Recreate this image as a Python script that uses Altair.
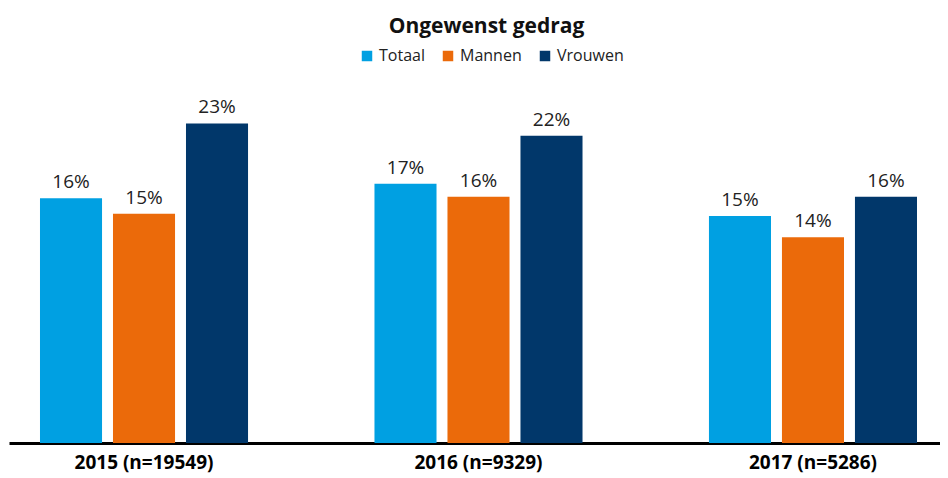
import altair as alt
import pandas as pd

groups = ["2015 (n=19549)", "2016 (n=9329)", "2017 (n=5286)"]
series = ["Totaal", "Mannen", "Vrouwen"]
colors = ["#00A0E2", "#EB6A0A", "#01376A"]

# bar heights (in %)
totaal = [16.0, 16.95, 14.85]
mannen = [15.0, 16.1, 13.45]
vrouwen = [20.9, 20.1, 16.1]

# printed labels
totaal_lbl = ["16%", "17%", "15%"]
mannen_lbl = ["15%", "16%", "14%"]
vrouwen_lbl = ["23%", "22%", "16%"]

rows = []
for vals, lbls, s in [(totaal, totaal_lbl, "Totaal"), (mannen, mannen_lbl, "Mannen"), (vrouwen, vrouwen_lbl, "Vrouwen")]:
    for g, v, l in zip(groups, vals, lbls):
        rows.append({"groep": g, "reeks": s, "waarde": v, "label": l})
df = pd.DataFrame(rows)

FONT = "Open Sans"

x = alt.X("groep:N", sort=groups, title=None,
          scale=alt.Scale(paddingInner=0.378, paddingOuter=0.0807, align=0.574),
          axis=alt.Axis(labelAngle=0, labelFont=FONT, labelFontSize=19, labelFontWeight="bold",
                        labelColor="#000000", labelPadding=10, ticks=False,
                        domainColor="#000000", domainWidth=3, grid=False))
xo = alt.XOffset("reeks:N", sort=series, scale=alt.Scale(paddingInner=0.15, paddingOuter=0))
y = alt.Y("waarde:Q", scale=alt.Scale(domain=[0, 24], nice=False), axis=None)

bars = alt.Chart(df).mark_bar().encode(
    x=x, xOffset=xo, y=y,
    color=alt.Color("reeks:N", sort=series,
                    scale=alt.Scale(domain=series, range=colors),
                    legend=alt.Legend(title=None, orient="none", direction="horizontal",
                                      legendX=350, legendY=-28,
                                      symbolType="square", symbolSize=110, symbolStrokeWidth=0,
                                      labelFont=FONT, labelFontSize=16, labelColor="#222222",
                                      labelOffset=4, columnPadding=15)),
)

text = alt.Chart(df).mark_text(baseline="bottom", dy=-6, font=FONT, fontSize=19, color="#222222").encode(
    x=x, xOffset=xo, y=y, text="label:N"
)

chart = (bars + text).properties(
    width=931, height=367,
    title=alt.TitleParams("Ongewenst gedrag", font=FONT, fontSize=21, fontWeight="bold",
                          color="#111111", anchor="middle", dx=12, offset=11),
    padding={"left": 1, "top": 68, "right": 0, "bottom": 34},
    autosize=alt.AutoSizeParams(type="none"),
).configure_view(stroke=None)

chart.save("out.html", embed_options={"renderer": "svg", "actions": False})
